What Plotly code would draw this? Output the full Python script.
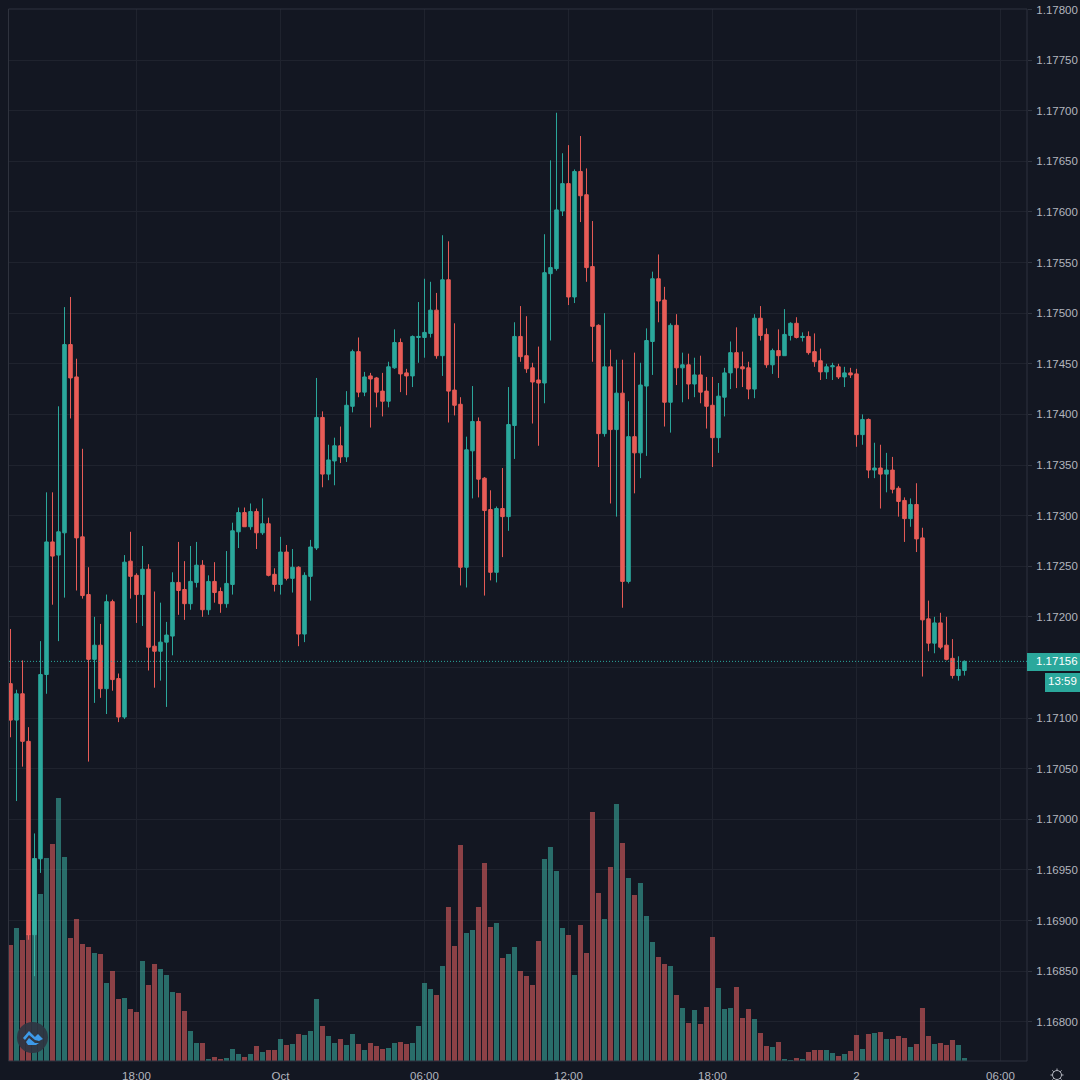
import math

import pandas as pd
import plotly.graph_objects as go

# 15 minute candles, prices kept in 1e-5 units (117134 = 1.17134)
opens = [117134,117098,117124,117077,116886,116961,117143,117274,117261,117283,
         117469,117437,117279,117222,117158,117172,117129,117215,117139,117101,
         117255,117241,117222,117247,117171,117166,117175,117181,117234,117227,
         117213,117234,117251,117207,117235,117225,117213,117232,117284,117303,
         117289,117304,117283,117292,117242,117232,117264,117238,117249,117183,
         117240,117268,117397,117341,117354,117369,117358,117408,117462,117422,
         117438,117436,117423,117413,117446,117471,117441,117438,117476,117476,
         117480,117503,117458,117533,117424,117410,117249,117364,117393,117337,
         117306,117244,117307,117299,117389,117477,117458,117446,117434,117431,
         117539,117544,117601,117628,117516,117640,117617,117546,117488,117381,
         117447,117385,117421,117235,117378,117362,117428,117472,117534,117513,
         117412,117488,117446,117449,117430,117439,117423,117409,117377,117417,
         117441,117461,117447,117446,117425,117495,117479,117449,117463,117458,
         117478,117490,117476,117477,117462,117453,117442,117447,117447,117437,
         117441,117440,117380,117395,117345,117347,117341,117345,117327,117315,
         117297,117311,117278,117198,117174,117194,117172,117159,117142,117147]
highs = [117188,117128,117157,117091,116986,117176,117323,117323,117408,117506,
         117516,117455,117366,117249,117200,117193,117222,117217,117144,117261,
         117284,117243,117270,117252,117225,117214,117195,117244,117274,117255,
         117270,117274,117256,117241,117254,117229,117265,117293,117308,117308,
         117312,117307,117317,117298,117248,117279,117271,117267,117250,117244,
         117276,117436,117403,117370,117377,117388,117423,117464,117476,117442,
         117441,117437,117441,117452,117484,117475,117445,117478,117511,117534,
         117531,117520,117577,117571,117490,117417,117378,117428,117397,117338,
         117325,117309,117347,117427,117491,117507,117497,117451,117467,117578,
         117651,117698,117658,117666,117642,117675,117643,117591,117489,117500,
         117464,117454,117454,117413,117461,117451,117485,117541,117558,117526,
         117490,117499,117461,117460,117456,117458,117437,117437,117431,117446,
         117472,117486,117462,117452,117499,117507,117485,117465,117484,117504,
         117491,117496,117481,117482,117480,117465,117450,117451,117450,117447,
         117446,117445,117400,117396,117372,117370,117362,117358,117329,117318,
         117317,117332,117288,117216,117200,117204,117200,117178,117161,117157]
lows = [117081,117018,117052,116881,116845,116947,117124,117212,117176,117219,
        117396,117226,117218,117057,117115,117120,117104,117127,117096,117099,
        117218,117194,117191,117147,117130,117137,117111,117162,117202,117197,
        117207,117229,117200,117202,117214,117204,117209,117222,117268,117289,
        117286,117267,117281,117240,117225,117222,117236,117224,117171,117175,
        117216,117266,117328,117335,117330,117352,117353,117402,117417,117418,
        117387,117407,117398,117407,117445,117422,117419,117427,117451,117456,
        117476,117455,117438,117392,117399,117231,117229,117317,117318,117221,
        117236,117234,117259,117285,117356,117452,117441,117391,117369,117411,
        117473,117542,117596,117508,117510,117590,117531,117452,117348,117378,
        117312,117299,117209,117233,117322,117337,117359,117439,117491,117388,
        117382,117429,117412,117415,117417,117411,117386,117348,117362,117398,
        117425,117426,117427,117415,117416,117473,117446,117440,117436,117458,
        117473,117475,117472,117459,117447,117434,117435,117434,117435,117427,
        117436,117368,117370,117337,117337,117307,117323,117322,117299,117274,
        117289,117264,117141,117166,117164,117168,117157,117139,117137,117142]
closes = [117098,117124,117077,116886,116961,117143,117274,117260,117284,117469,
          117436,117278,117221,117158,117172,117129,117215,117138,117101,117254,
          117240,117222,117247,117170,117166,117175,117182,117234,117226,117213,
          117235,117251,117207,117235,117224,117213,117233,117285,117303,117289,
          117304,117283,117292,117241,117232,117264,117238,117249,117183,117241,
          117269,117397,117341,117355,117369,117358,117409,117462,117422,117437,
          117435,117422,117413,117447,117471,117440,117438,117477,117477,117481,
          117503,117458,117533,117423,117409,117249,117365,117393,117336,117305,
          117244,117307,117299,117390,117477,117457,117445,117432,117431,117540,
          117545,117602,117628,117516,117640,117616,117545,117487,117381,117447,
          117385,117421,117235,117378,117362,117429,117473,117534,117512,117412,
          117488,117446,117449,117430,117439,117422,117408,117377,117418,117441,
          117461,117446,117445,117425,117495,117478,117449,117463,117458,117479,
          117490,117476,117477,117461,117452,117442,117447,117448,117437,117441,
          117439,117380,117395,117345,117347,117341,117345,117326,117314,117297,
          117311,117277,117197,117174,117194,117170,117158,117142,117148,117156]
volumes = [116,133,121,127,203,167,203,217,263,204,
           123,142,117,114,108,107,78,90,62,63,
           52,49,100,76,97,92,86,69,68,50,
           30,18,18,2,4,2,3,12,7,4,
           7,15,9,11,11,22,16,17,27,26,
           30,62,35,25,18,22,16,27,17,11,
           18,15,12,13,18,19,17,18,35,78,
           72,66,95,154,115,216,128,131,154,198,
           134,138,103,107,114,90,85,76,120,202,
           214,190,133,126,86,136,108,249,168,142,
           194,257,218,183,166,178,145,119,104,97,
           95,66,53,38,51,37,54,124,73,52,
           53,74,43,52,42,28,15,14,19,2,
           1,3,2,9,11,11,11,8,5,7,
           10,26,12,27,28,29,22,22,25,23,
           14,17,53,25,17,18,16,21,16,3]

price_ticks = [1.168, 1.1685, 1.169, 1.1695, 1.17, 1.1705, 1.171, 1.1715, 1.172, 1.1725, 1.173,
               1.1735, 1.174, 1.1745, 1.175, 1.1755, 1.176, 1.1765, 1.177, 1.1775, 1.178]
# 1.17150 is hidden behind the last price tag
price_labels = ["" if p == 1.1715 else f"{p:.5f}" for p in price_ticks]
time_ticks = ["2020-09-30 18:00", "2020-10-01 00:00", "2020-10-01 06:00", "2020-10-01 12:00",
              "2020-10-01 18:00", "2020-10-02 00:00", "2020-10-02 06:00"]
time_labels = ["18:00", "Oct", "06:00", "12:00", "18:00", "2", "06:00"]
last_price = 1.17156
countdown = "13:59"

BG = "#131722"
GRID = "#1f232e"
FRAME = "#2f333e"
TEXT = "#b2b5be"
UP = "#2ba89c"
DOWN = "#e85c57"
W, H = 1080, 1080
L, R, T, B = 9, 1027, 9, 1061


def px(x):
    return (x - L) / (R - L)


def py(y):
    return (B - y) / (B - T)


def pixel_path(points):
    return "M " + " L ".join(f"{px(a):.5f},{py(b):.5f}" for a, b in points) + " Z"


times = pd.date_range("2020-09-30 12:45", periods=len(opens), freq="15min")
step = pd.Timedelta(minutes=15)
x_end = times[0] + 169.42 * step
# anchor for the labels out of the plot area: axis refs do not push the margins
x_anchor = times[0] + 169 * step

fig = go.Figure()
fig.add_trace(go.Candlestick(
    x=times,
    open=[v / 1e5 for v in opens],
    high=[v / 1e5 for v in highs],
    low=[v / 1e5 for v in lows],
    close=[v / 1e5 for v in closes],
    increasing=dict(line=dict(color=UP, width=1), fillcolor=UP),
    decreasing=dict(line=dict(color=DOWN, width=1), fillcolor=DOWN),
    whiskerwidth=0,
    yaxis="y",
    showlegend=False,
))
# volume sits on its own hidden axis so that it is painted over the candles
vol_colors = ["rgba(60,180,165,0.55)" if c >= o else "rgba(240,100,100,0.55)" for o, c in zip(opens, closes)]
fig.add_trace(go.Bar(x=times, y=volumes, marker=dict(color=vol_colors, line_width=0), yaxis="y2", showlegend=False))

fig.update_layout(
    width=W, height=H, autosize=False,
    margin=dict(l=L, r=W - R, t=T, b=H - B, pad=0),
    paper_bgcolor=BG, plot_bgcolor=BG,
    font=dict(family="Liberation Sans", size=11.5, color=TEXT),
    bargap=0.16, boxgap=0.16,
    hovermode=False,
    xaxis=dict(
        type="date", automargin=False,
        range=[times[0] - 0.25 * step, x_end],
        tickmode="array", tickvals=time_ticks, ticktext=time_labels, tickangle=0,
        showgrid=True, gridcolor=GRID, gridwidth=1, zeroline=False,
        ticks="", showline=False, rangeslider=dict(visible=False), ticklabelstandoff=6,
        tickfont=dict(size=11.5, color=TEXT),
    ),
    yaxis=dict(
        side="right", automargin=False,
        range=[1.167612, 1.178005],
        tickmode="array", tickvals=price_ticks, ticktext=price_labels,
        showgrid=True, gridcolor=GRID, gridwidth=1, zeroline=False,
        ticks="outside", ticklen=4, tickcolor=FRAME, showline=False, ticklabelstandoff=2,
        tickfont=dict(size=11.5, color=TEXT),
    ),
    yaxis2=dict(overlaying="y", range=[0, B - T], visible=False, fixedrange=True, automargin=False),
)

# frame and last price line
fig.add_shape(type="rect", xref="paper", yref="paper", x0=px(8.5), x1=1, y0=0, y1=1,
              line=dict(color=FRAME, width=1), fillcolor="rgba(0,0,0,0)", layer="above")
fig.add_shape(type="line", xref="paper", yref="y", x0=0, x1=1, y0=last_price, y1=last_price,
              line=dict(color=UP, width=1, dash="1px,2px"), layer="above")

# logo in the lower left corner
fig.add_shape(type="circle", xref="paper", yref="paper", x0=px(17), x1=px(48), y0=py(1053), y1=py(1022),
              line_width=0, fillcolor="rgba(47,53,66,0.92)", layer="above")
logo_top = [(23, 1038), (29, 1031), (35, 1037), (38, 1034), (43, 1039), (39, 1041), (35, 1040), (29, 1035), (25, 1040)]
logo_low = [(26, 1042), (29, 1038), (35, 1043), (39, 1043), (36, 1045), (28, 1045)]
for part in (logo_top, logo_low):
    fig.add_shape(type="path", xref="paper", yref="paper", line_width=0, fillcolor="#3d9ae8", layer="above",
                  path=pixel_path(part))

# settings icon under the price axis
fig.add_shape(type="circle", xref="paper", yref="paper", x0=px(1052.5), x1=px(1061.5), y0=py(1079.5), y1=py(1070.5),
              line=dict(color=TEXT, width=1), fillcolor="rgba(0,0,0,0)")
for k in range(8):
    a = k * math.pi / 4
    fig.add_shape(type="line", xref="paper", yref="paper", line=dict(color=TEXT, width=1),
                  x0=px(1057 + 4.5 * math.cos(a)), x1=px(1057 + 6.5 * math.cos(a)),
                  y0=py(1075 + 4.5 * math.sin(a)), y1=py(1075 + 6.5 * math.sin(a)))

# tags on the price axis, the rectangles are shapes so that the text can sit where it should
fig.add_shape(type="rect", xref="paper", yref="paper", x0=1, x1=px(1080), y0=py(671), y1=py(653),
              line_width=0, fillcolor=UP, layer="above")
fig.add_shape(type="rect", xref="paper", yref="paper", x0=px(1045), x1=px(1080), y0=py(692), y1=py(673),
              line_width=0, fillcolor=UP, layer="above")
fig.add_annotation(x=x_anchor, y=last_price, xanchor="center", yanchor="middle", xshift=33,
                   text=f"{last_price:.5f}", showarrow=False, font=dict(size=11.5, color="#ffffff"))
fig.add_annotation(x=x_anchor, y=last_price, xanchor="center", yanchor="middle", xshift=38.5, yshift=-20,
                   text=countdown, showarrow=False, font=dict(size=11.5, color="#ffffff"))

fig.write_html("out.html", config=dict(displayModeBar=False),
               post_script="document.body.style.margin='0';document.body.style.overflow='hidden';")
